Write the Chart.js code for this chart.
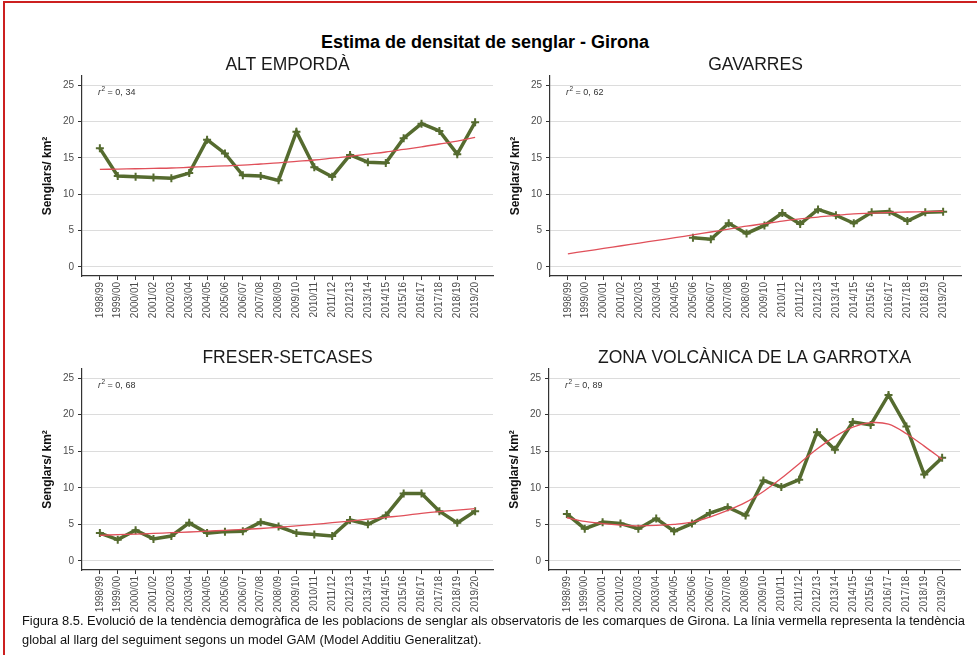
<!DOCTYPE html>
<html>
<head>
<meta charset="utf-8">
<script src="https://cdn.jsdelivr.net/npm/chart.js@4.4.1/dist/chart.umd.min.js"></script>
<style>
  html, body { margin:0; padding:0; background:#fff; }
  body { width:977px; height:655px; position:relative; overflow:hidden; font-family:"Liberation Sans", Arial, sans-serif; }
  #frame { position:absolute; left:3px; top:1px; width:1000px; height:700px; border-top:2px solid #cc2020; border-left:2px solid #cc2020; }
  #mainTitle { position:absolute; left:0; top:31px; width:970px; text-align:center; font-weight:bold; font-size:18px; line-height:22px; color:#000; }
  canvas { position:absolute; }
  #caption { position:absolute; left:22px; top:612px; font-size:12px; line-height:19px; color:#111; white-space:nowrap; transform-origin:0 0; z-index:5; }
</style>
</head>
<body>
<div id="frame"></div>
<div id="mainTitle">Estima de densitat de senglar - Girona</div>
<canvas id="c1" width="465" height="280" style="left:38px;top:46px"></canvas>
<canvas id="c2" width="465" height="280" style="left:506px;top:46px"></canvas>
<canvas id="c3" width="465" height="281" style="left:38px;top:339px"></canvas>
<canvas id="c4" width="465" height="281" style="left:505px;top:339px"></canvas>
<div id="caption"><div>Figura 8.5. Evolució de la tendència demogràfica de les poblacions de senglar als observatoris de les comarques de Girona. La línia vermella representa la tendència</div><div>global al llarg del seguiment segons un model GAM (Model Additiu Generalitzat).</div></div>
<script>
const categories = ['1998/99','1999/00','2000/01','2001/02','2002/03','2003/04','2004/05','2005/06','2006/07','2007/08','2008/09','2009/10','2010/11','2011/12','2012/13','2013/14','2014/15','2015/16','2016/17','2017/18','2018/19','2019/20'];
const yTickValues = [0, 5, 10, 15, 20, 25];

const altEmporda      = [16.3, 12.5, 12.4, 12.3, 12.2, 12.9, 17.5, 15.6, 12.6, 12.5, 11.9, 18.6, 13.7, 12.4, 15.4, 14.4, 14.3, 17.7, 19.7, 18.7, 15.5, 19.9];
const altEmpordaTrend = [13.4, 13.45, 13.5, 13.55, 13.6, 13.7, 13.8, 13.9, 14.0, 14.15, 14.3, 14.5, 14.7, 14.95, 15.2, 15.5, 15.8, 16.15, 16.5, 16.9, 17.3, 17.8];

const gavarres        = [null, null, null, null, null, null, null, 4.0, 3.8, 6.0, 4.6, 5.7, 7.4, 5.9, 7.9, 7.1, 6.0, 7.5, 7.6, 6.3, 7.5, 7.6];
const gavarresTrend   = [1.8, 2.17, 2.54, 2.91, 3.28, 3.65, 4.02, 4.4, 4.8, 5.2, 5.6, 5.95, 6.3, 6.6, 6.85, 7.1, 7.3, 7.4, 7.5, 7.55, 7.6, 7.65];

const freser          = [3.8, 2.9, 4.2, 3.0, 3.4, 5.2, 3.8, 4.0, 4.05, 5.3, 4.7, 3.8, 3.6, 3.4, 5.6, 5.0, 6.2, 9.2, 9.2, 6.8, 5.2, 6.8];
const freserTrend     = [3.5, 3.58, 3.66, 3.75, 3.85, 3.95, 4.06, 4.18, 4.3, 4.43, 4.6, 4.8, 5.0, 5.22, 5.45, 5.7, 5.95, 6.2, 6.5, 6.75, 6.95, 7.15];

const garrotxa        = [6.4, 4.4, 5.3, 5.1, 4.4, 5.8, 4.05, 5.1, 6.55, 7.35, 6.2, 11.0, 10.1, 11.1, 17.6, 15.2, 19.0, 18.6, 22.7, 18.4, 11.8, 14.1];
const garrotxaTrend   = [5.9, 5.4, 5.1, 4.9, 4.8, 4.85, 5.0, 5.3, 6.0, 6.9, 8.0, 9.5, 11.3, 13.3, 15.3, 17.0, 18.3, 18.9, 18.7, 17.4, 15.7, 13.9];

const panelTitles = ['ALT EMPORDÀ', 'GAVARRES', 'FRESER-SETCASES', 'ZONA VOLCÀNICA DE LA GARROTXA'];
const r2Labels = ['0, 34', '0, 62', '0, 68', '0, 89'];

const FONT = '"Liberation Sans", Arial, sans-serif';
const GREEN = '#556b2f';
const RED = '#e0505a';

const panelText = {
  id: 'panelText',
  afterDraw(chart, args, opts) {
    const {ctx, chartArea} = chart;
    ctx.save();
    ctx.fillStyle = '#1a1a1a';
    ctx.font = '17.5px ' + FONT;
    ctx.textAlign = 'center';
    ctx.textBaseline = 'alphabetic';
    ctx.fillText(opts.title, (chartArea.left + chartArea.right) / 2, chartArea.top - 6);
    // r2 label
    let x = chartArea.left + 16;
    const y = chartArea.top + 19;
    ctx.textAlign = 'left';
    ctx.fillStyle = '#333';
    ctx.font = 'italic 9px ' + FONT;
    ctx.fillText('r', x, y);
    x += ctx.measureText('r').width + 0.5;
    ctx.font = '6.5px ' + FONT;
    ctx.fillText('2', x, y - 4);
    x += ctx.measureText('2').width;
    ctx.font = '9px ' + FONT;
    ctx.fillText(' = ' + opts.r2, x, y);
    ctx.restore();
  }
};

function makeChart(id, idx, values, trend) {
  new Chart(document.getElementById(id), {
    type: 'line',
    data: {
      datasets: [
        {
          label: 'Tendència GAM',
          data: trend.map((v, i) => ({x: i, y: v})),
          borderColor: RED,
          borderWidth: 1.3,
          pointRadius: 0,
          tension: 0.35,
          order: 0
        },
        {
          label: 'Densitat',
          data: values.map((v, i) => ({x: i, y: v})),
          borderColor: GREEN,
          backgroundColor: GREEN,
          borderWidth: 3.5,
          pointStyle: 'cross',
          pointRadius: 4,
          pointBorderWidth: 2,
          pointBorderColor: GREEN,
          tension: 0,
          spanGaps: false,
          order: 1
        }
      ]
    },
    options: {
      responsive: false,
      animation: false,
      devicePixelRatio: 1,
      layout: { padding: { top: 30, right: 10, left: 0, bottom: 0 } },
      plugins: {
        legend: { display: false },
        tooltip: { enabled: false },
        panelText: { title: panelTitles[idx], r2: r2Labels[idx] }
      },
      scales: {
        x: {
          type: 'linear',
          min: -1,
          max: 22,
          afterBuildTicks: s => { s.ticks = categories.map((_, i) => ({value: i})); },
          afterFit: s => { s.height = 50; },
          grid: { drawOnChartArea: false, drawTicks: true, tickLength: 4, tickColor: '#333' },
          border: { color: '#333', width: 1.2 },
          ticks: {
            autoSkip: false, minRotation: 90, maxRotation: 90, padding: 2,
            font: { size: 10, family: FONT }, color: '#4d4d4d',
            callback: v => categories[v]
          }
        },
        y: {
          min: -1.25,
          max: 26.25,
          afterBuildTicks: s => { s.ticks = yTickValues.map(v => ({value: v})); },
          afterFit: s => { s.width = 44; },
          grid: { color: '#dcdcdc', lineWidth: 1, tickLength: 4, tickColor: '#333' },
          border: { color: '#333', width: 1.2 },
          ticks: { padding: 4, font: { size: 10, family: FONT }, color: '#4d4d4d' },
          title: {
            display: true, text: 'Senglars/ km²',
            font: { size: 12, weight: 'bold', family: FONT }, color: '#111',
            padding: { top: 2, bottom: 0 }
          }
        }
      }
    },
    plugins: [panelText]
  });
}

makeChart('c1', 0, altEmporda, altEmpordaTrend);
makeChart('c2', 1, gavarres, gavarresTrend);
makeChart('c3', 2, freser, freserTrend);
makeChart('c4', 3, garrotxa, garrotxaTrend);

// fit caption width to the reference line length
const cap = document.getElementById('caption');
const w = cap.firstChild.getBoundingClientRect().width;
if (w > 0) cap.style.transform = 'scaleX(' + (943 / w) + ')';
</script>
</body>
</html>
